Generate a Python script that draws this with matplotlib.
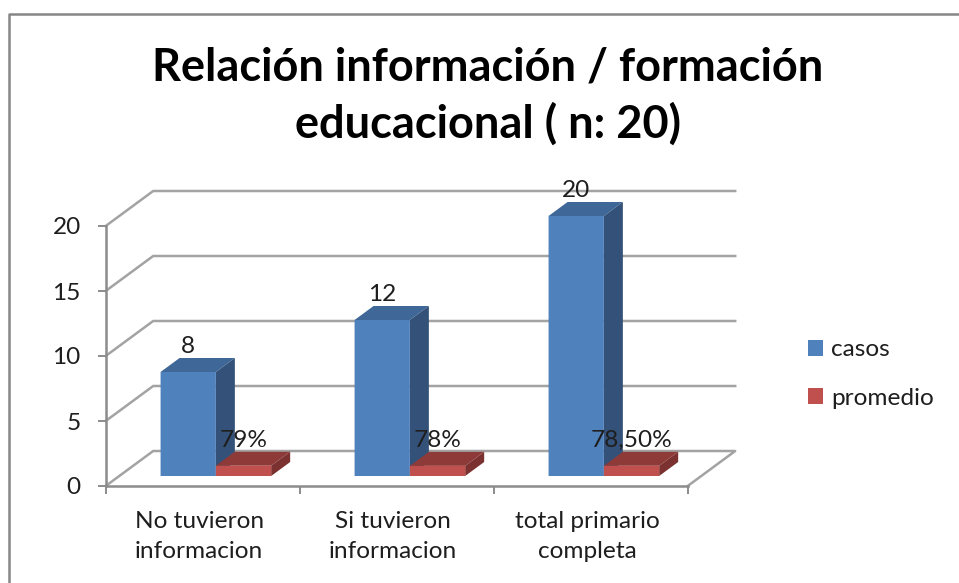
import matplotlib
matplotlib.use("Agg")
import matplotlib.pyplot as plt
from matplotlib.lines import Line2D
from matplotlib.patches import Patch, Polygon

plt.rcParams['font.family'] = ['Lato', 'DejaVu Sans']

title = "Relación información / formación\neducacional ( n: 20)"
categories = ["No tuvieron\ninformacion", "Si tuvieron\ninformacion", "total primario\ncompleta"]
casos = [8, 12, 20]
promedio = [0.79, 0.78, 0.785]
casos_labels = ["8", "12", "20"]
promedio_labels = ["79%", "78%", "78,50%"]
yticks = [0, 5, 10, 15, 20]

W, H = 959, 583
fig = plt.figure(figsize=(W / 100, H / 100), dpi=100, facecolor='white')
L, R, B, T = 105.7, 687.7, 486.0, 226.0
ax = fig.add_axes([L / W, 1 - B / H, (R - L) / W, (B - T) / H])
ax.set_xlim(0, 3)
ax.set_ylim(0, 20)
ax.patch.set_visible(False)

PX = (R - L) / 3
PY = (B - T) / 20
WALL_X = 47.5 / PX
WALL_Y = 35.0 / PY
GRID = '#A3A3A3'
AXC = '#8C8C8C'
TXT = '#1E1E1E'
FS = 17.6

def dep(x, y, d):
    return (x + d * WALL_X, y + d * WALL_Y)

for v in yticks:
    pts = [dep(0, v, 0), dep(0, v, 1), dep(3, v, 1)]
    if v == 0:
        pts = pts + [dep(3, v, 0)]
    ax.plot(*zip(*pts), color=GRID, lw=1.8, clip_on=False, zorder=1)

for s in ['top', 'right']:
    ax.spines[s].set_visible(False)
for s in ['left', 'bottom']:
    ax.spines[s].set_color(AXC)
    ax.spines[s].set_linewidth(1.8)
    ax.spines[s].set_zorder(2)

ax.set_yticks(yticks)
ax.set_yticklabels([str(v) for v in yticks], fontsize=FS, color=TXT)
ax.tick_params(axis='y', length=6, width=1.4, color=AXC, pad=12)
ax.set_xticks([0, 1, 2, 3])
ax.set_xticklabels([])
ax.tick_params(axis='x', length=6, width=1.4, color=AXC)

D0, DB = 10.0 / 35.0, 14.0 / 35.0
BAR_W = 55.3 / PX
GAP = 41.3 / PX

def bar3d(x0, value, front, top, side, z):
    xb, yb = dep(x0, 0, D0)
    bars = ax.bar(xb, value, width=BAR_W, bottom=yb, align='edge', color=front,
                  clip_on=False, zorder=z + 0.2, linewidth=0)
    for b in bars:
        b.set_snap(False)
    yt = yb + value
    xr = xb + BAR_W
    dx, dy = DB * WALL_X, DB * WALL_Y
    ax.add_patch(Polygon([(xb, yt), (xr, yt), (xr + dx, yt + dy), (xb + dx, yt + dy)],
                         closed=True, fc=top, ec='none', clip_on=False, zorder=z))
    ax.add_patch(Polygon([(xr, yb), (xr + dx, yb + dy), (xr + dx, yt + dy), (xr, yt)],
                         closed=True, fc=side, ec='none', clip_on=False, zorder=z))
    return xb + BAR_W / 2, yt

def label(x, y, s):
    ax.annotate(s, (x, y), xytext=(0, 18.4), textcoords='offset points', ha='center',
                va='center', fontsize=FS, color=TXT, annotation_clip=False, zorder=10)

for i in range(3):
    x_c = i + GAP
    x_p = x_c + BAR_W
    cx, cy = bar3d(x_c, casos[i], '#4F81BD', '#3F6797', '#345279', 3)
    px, py = bar3d(x_p, promedio[i], '#C0504D', '#8E3A38', '#7A312F', 4)
    label(cx, cy, casos_labels[i])
    label(px, py, promedio_labels[i])
    ax.annotate(categories[i], (i + 0.5, 0), xytext=(-2.5, -18), textcoords='offset points',
                ha='center', va='top', fontsize=FS, color=TXT, linespacing=1.55,
                annotation_clip=False)

fig.text(488 / W, 1 - 96 / H, title, ha='center', va='center', fontsize=32.5, fontweight='bold',
         color='black', linespacing=1.38)

handles = [Patch(fc='#4F81BD', ec='none', label='casos'), Patch(fc='#C0504D', ec='none', label='promedio')]
fig.legend(handles=handles, loc='center left', bbox_to_anchor=(808 / W, 1 - 374 / H), frameon=False,
           fontsize=FS, handlelength=0.61, handleheight=0.61, handletextpad=0.35,
           labelspacing=1.12, labelcolor=TXT, borderpad=0, borderaxespad=0)

fig.add_artist(Line2D([8.5 / W, 8.5 / W, 1], [0, 1 - 13.5 / H, 1 - 13.5 / H],
                      transform=fig.transFigure, color='#868686', lw=1.8))

fig.savefig('out.png', dpi=100, facecolor='white')
